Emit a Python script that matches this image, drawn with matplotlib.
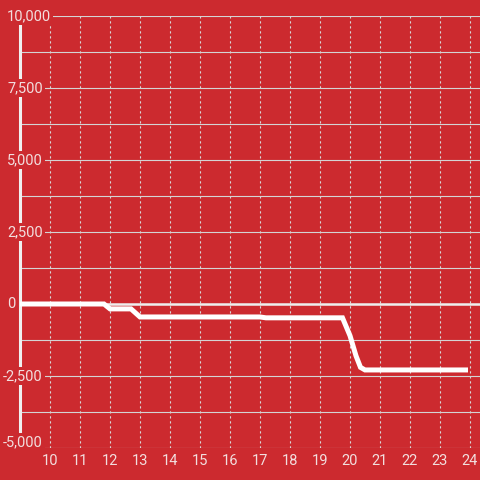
# Grafico de linea sobre fondo rojo

import numpy as np
import matplotlib.pyplot as plt
import matplotlib.transforms as mtransforms

# Datos

Horas = [9.0, 11.8, 12.0, 12.7, 13.0, 17.0, 17.2, 19.75, 20.0, 20.2, 20.35, 20.5, 23.85]
Valores = [0, 0, -170, -170, -450, -450, -480, -480, -1100, -1800, -2200, -2290, -2290]

Ticks_X = list(range(10, 25))
Ticks_Y = [-5000, -2500, 0, 2500, 5000, 7500, 10000]
Etiquetas_Y = ["-5,000", "-2,500", "0", "2,500", "5,000", "7,500", "10,000"]

Fondo = "#cc2a2f"
Texto = "#f2dede"

# Figura

plt.rcParams["font.family"] = ["Roboto", "DejaVu Sans"]

fig = plt.figure(figsize=(4.8, 4.8), dpi=100, facecolor=Fondo)
ax = fig.add_axes([20 / 480, 32 / 480, 460 / 480, 432 / 480])
ax.set_facecolor(Fondo)

ax.set_xlim(9, 9 + 460 / 30)
ax.set_ylim(-5000, 10000)

for s in ax.spines.values():
    s.set_visible(False)

# Rejilla
ax.set_yticks(np.arange(-5000, 10001, 1250))
ax.set_xticks(Ticks_X)
ax.set_xticklabels([str(t) for t in Ticks_X], color=Texto, fontsize=10.5)
ax.set_yticklabels([])
ax.tick_params(axis="both", length=0)
ax.tick_params(axis="x", pad=4)
ax.grid(axis="y", color="#d4d4d4", linewidth=0.8, zorder=1)
ax.grid(axis="x", color="#d8d8d8", linewidth=0.8, linestyle=(0, (2, 2.5)), zorder=1)
ax.set_axisbelow(True)

# Eje vertical blanco
ax.plot([9, 9], [-5000, 9720], color="#f0f0f0", linewidth=2.2, zorder=3, clip_on=False)

# Linea cero
ax.axhline(0, color="#eeeeee", linewidth=1.8, zorder=4)

# Serie
ax.plot(Horas, Valores, color="white", linewidth=3.6, zorder=5, solid_joinstyle="miter")

# Etiquetas del eje Y
trans = mtransforms.blended_transform_factory(fig.transFigure, ax.transData)
for v, e in zip(Ticks_Y, Etiquetas_Y):
    x0 = 3 / 480 if v < 0 else 7 / 480
    off = 200 if v == -5000 else 0
    ax.text(x0, v + off, e, transform=trans, ha="left", va="center", color=Texto,
            fontsize=10.5, zorder=6, clip_on=False,
            bbox=dict(boxstyle="square,pad=0.15", facecolor=Fondo, edgecolor="none"))

fig.savefig("out.png", dpi=100, facecolor=Fondo)
